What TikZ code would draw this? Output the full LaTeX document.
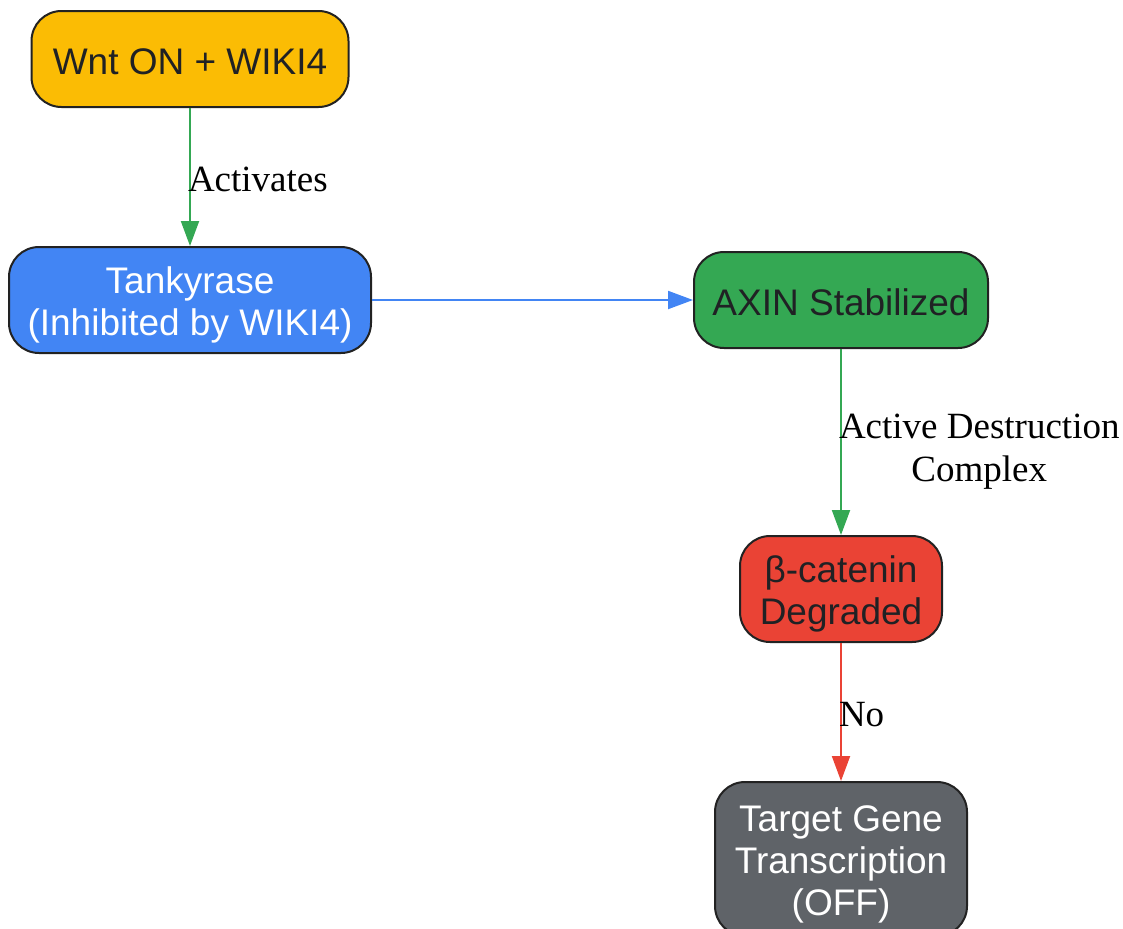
\documentclass[tikz,border=0pt]{standalone}
\usepackage{fontspec}
\setmainfont{Liberation Serif}
\setsansfont{Liberation Sans}
\usetikzlibrary{arrows.meta}
\definecolor{cyellow}{HTML}{FBBC04}
\definecolor{cblue}{HTML}{4285F4}
\definecolor{cgreen}{HTML}{34A853}
\definecolor{cred}{HTML}{EA4335}
\definecolor{cgrey}{HTML}{5F6368}
\definecolor{cstroke}{HTML}{222222}
\definecolor{cdark}{HTML}{202124}
\newcommand\topstrut{\rule{0pt}{28pt}}
\newcommand\botstrut{\rule[-6pt]{0pt}{0pt}}
\tikzset{
  box/.style={draw=cstroke, line width=1.5pt, rounded corners=22.5pt, align=center,
    inner sep=0pt, font=\sffamily\fontsize{27.75}{31.5}\selectfont,
    execute at begin node={\rule{0pt}{27pt}},
    execute at end node={\rule[-4pt]{0pt}{0pt}}},
  multibox/.style={draw=cstroke, line width=1.5pt, rounded corners=22.5pt, align=center,
    inner sep=0pt, font=\sffamily\fontsize{27.75}{31.5}\selectfont},
  conn/.style={line width=1.5pt, -{Triangle[length=18.75pt,width=13.5pt]}},
  elabel/.style={anchor=west, inner sep=0pt, align=center, xshift=-2.25pt,
    font=\rmfamily\fontsize{27.75}{32.25}\selectfont, text=black}
}
\begin{document}
\begin{tikzpicture}[x=0.75pt,y=-0.75pt]
\useasboundingbox (0,0) rectangle (1123,928);
\node[box, fill=cyellow, text=cdark, minimum width=237.75pt, minimum height=72pt] (wnt) at (190,59) {Wnt ON + WIKI4};
\node[multibox, fill=cblue, text=white, minimum width=271.5pt, minimum height=79.5pt] (tank) at (190,300) {\topstrut Tankyrase\\(Inhibited by WIKI4)\botstrut};
\node[box, fill=cgreen, text=cdark, minimum width=220.5pt, minimum height=72pt] (axin) at (841,300) {AXIN Stabilized};
\node[multibox, fill=cred, text=cdark, minimum width=151.5pt, minimum height=79.5pt] (bcat) at (841,589) {\topstrut β-catenin\\Degraded\botstrut};
\node[multibox, fill=cgrey, text=white, minimum width=189pt, minimum height=115.5pt] (tgt) at (841,859) {\topstrut Target Gene\\Transcription\\(OFF)\botstrut};
\draw[conn, cgreen] (wnt) -- node[elabel, yshift=-1.5pt] {Activates} (tank);
\draw[conn, cblue] (tank) -- (axin);
\draw[conn, cgreen] (axin) -- node[elabel, yshift=-7.5pt] {Active Destruction\\Complex} (bcat);
\draw[conn, cred] (bcat) -- node[elabel, yshift=-2.25pt] {No} (tgt);
\end{tikzpicture}
\end{document}
